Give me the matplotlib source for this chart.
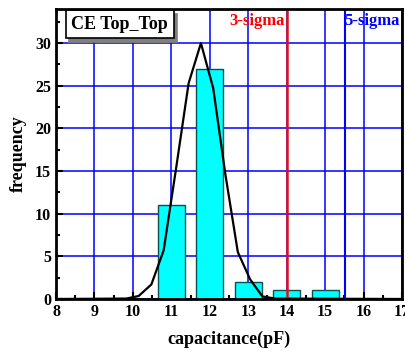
import matplotlib.pyplot as plt
from matplotlib.ticker import MultipleLocator
from matplotlib.transforms import offset_copy

plt.rcParams['font.family'] = ['Liberation Serif', 'DejaVu Serif']
plt.rcParams['font.weight'] = 'bold'

# histogram bins (center) and counts
centros = [11, 12, 13, 14, 15]
cuentas = [11, 27, 2, 1, 1]

# fitted curve
curva_x = [8, 9.83, 10.15, 10.48, 10.8, 11.12, 11.45, 11.77, 12.09, 12.41, 12.73, 13.05, 13.37, 13.7, 17]
curva_y = [0, 0.05, 0.35, 1.7, 5.7, 15.2, 25.3, 30, 24.7, 14.5, 5.5, 2.3, 0.3, 0.05, 0]

sigma3 = 14.0
sigma5 = 15.53

fig = plt.figure(figsize=(4.06, 3.53), dpi=100)
ax = fig.add_axes([0.138, 0.153, 0.852, 0.8215])

ax.set_axisbelow(True)
ax.grid(True, which='major', color='blue', lw=1.1)
ax.bar(centros, cuentas, width=0.7, color='cyan', edgecolor='#0a5050', lw=1, zorder=2)
ax.plot(curva_x, curva_y, color='black', lw=1.6, zorder=3)
ax.axvline(sigma3, color='#e0101a', lw=1.8, zorder=4)
ax.axvline(sigma5, color='blue', lw=1.5, zorder=4)

ax.text(sigma3 - 0.05, 32.6, '3-sigma', color='red', fontsize=12, fontweight='bold',
        ha='right', va='center', zorder=5)
ax.text(sigma5 - 0.02, 32.6, '5-sigma', color='blue', fontsize=12, fontweight='bold',
        ha='left', va='center', zorder=5)

# caja de titulo con sombra
sombra = offset_copy(ax.transData, fig=fig, x=2.5, y=-2.5, units='points')
ax.text(8.4, 32.2, 'CE Top_Top', fontsize=13, fontweight='bold', ha='left', va='center',
        color='none', zorder=5, transform=sombra,
        bbox=dict(boxstyle='square,pad=0.3', fc='#808080', ec='#808080', lw=1.2))
ax.text(8.4, 32.2, 'CE Top_Top', fontsize=13, fontweight='bold', ha='left', va='center',
        zorder=6, bbox=dict(boxstyle='square,pad=0.3', fc='white', ec='black', lw=1.2))

ax.set_xlim(8, 17)
ax.set_ylim(0, 34)
ax.xaxis.set_major_locator(MultipleLocator(1))
ax.xaxis.set_minor_locator(MultipleLocator(0.5))
ax.yaxis.set_major_locator(MultipleLocator(5))
ax.yaxis.set_minor_locator(MultipleLocator(2.5))
ax.tick_params(which='both', direction='in', width=1.5, labelsize=11.5)
ax.tick_params(which='major', length=5)
ax.tick_params(which='minor', length=3)
for s in ax.spines.values():
    s.set_linewidth(2)
    s.set_zorder(7)

ax.set_xlabel('capacitance(pF)', fontsize=13, fontweight='bold', labelpad=8)
ax.set_ylabel('frequency', fontsize=13, fontweight='bold', labelpad=6)

plt.savefig('out.png', dpi=100)
